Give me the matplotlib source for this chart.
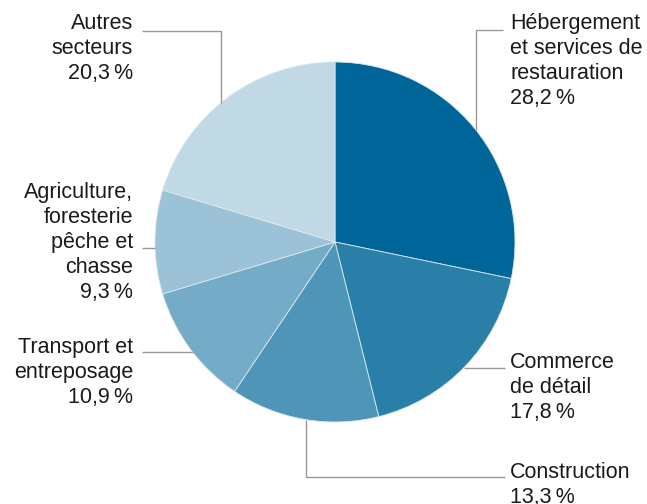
import numpy as np
import matplotlib.pyplot as plt

labels = ["Hébergement\net services de\nrestauration\n28,2\u202f%",
          "Commerce\nde détail\n17,8\u202f%",
          "Construction\n13,3\u202f%",
          "Transport et\nentreposage\n10,9\u202f%",
          "Agriculture,\nforesterie\npêche et\nchasse\n9,3\u202f%",
          "Autres\nsecteurs\n20,3\u202f%"]
values = [28.2, 17.8, 13.3, 10.9, 9.3, 20.3]
colors = ["#006699", "#2a7fa8", "#4f95b8", "#74abc7", "#9bc2d6", "#c1d9e4"]

plt.rcParams['font.family'] = ['Liberation Sans', 'DejaVu Sans']

fig = plt.figure(figsize=(6.47, 5.04), dpi=100)
ax = fig.add_axes([0, 0, 1, 1])

cx, cy, r = 335, 242, 180
wedges, _ = ax.pie(values, colors=colors, startangle=-90, counterclock=True,
                   center=(cx, cy), radius=r,
                   wedgeprops=dict(linewidth=0.6, edgecolor="#dbe8ef"))
ax.set_xlim(0, 647)
ax.set_ylim(504, 0)
ax.set_aspect('equal')
ax.axis('off')

# leader layout: (kind, leader x or y, line end, text x, text top, ha)
layout = [
    ("v", 476, (503, 30), 510, 13, "left"),
    ("h", 368, (505, 368), 510, 352, "left"),
    ("v", 306, (505, 477), 510, 462, "left"),
    ("h", 352, (142, 352), 133, 337, "right"),
    ("h", 248, (142, 248), 133, 182, "right"),
    ("v", 221, (142, 31), 133, 13, "right"),
]

line_kw = dict(color="#999999", lw=1.0, solid_capstyle="butt")
for w, lab, (kind, pos, (ex, ey), tx, ty, ha) in zip(wedges, labels, layout):
    mid = np.deg2rad((w.theta1 + w.theta2) / 2)
    if kind == "v":
        # meet the pie edge on the side of the wedge
        py = cy + np.sign(np.sin(mid)) * np.sqrt(r**2 - (pos - cx)**2)
        ax.plot([pos, pos, ex], [py, ey, ey], **line_kw)
    else:
        px = cx + np.sign(np.cos(mid)) * np.sqrt(r**2 - (pos - cy)**2)
        ax.plot([px, ex], [pos, pos], **line_kw)
    ax.text(tx, ty, lab, ha=ha, va="top", fontsize=15.5, color="#1a1a1a",
            linespacing=1.25, multialignment=ha)

fig.savefig("out.png", dpi=100)
